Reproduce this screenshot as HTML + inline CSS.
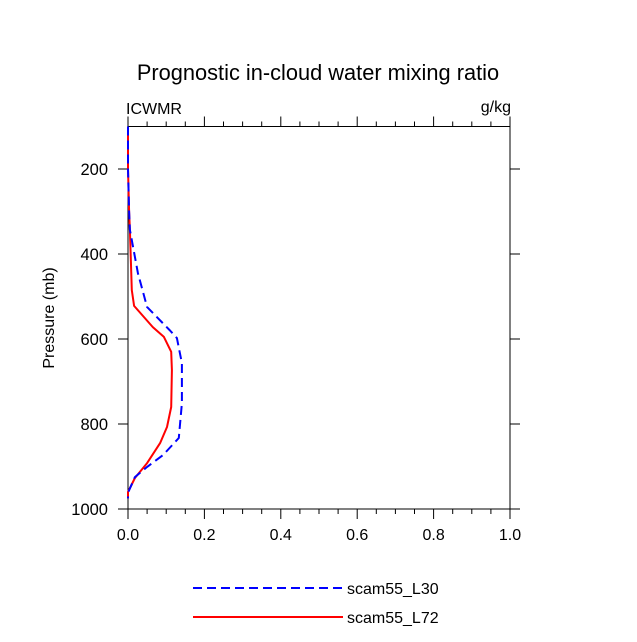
<!DOCTYPE html>
<html><head><meta charset="utf-8"><style>
body{margin:0;background:#fff;}
svg text{font-family:"Liberation Sans",sans-serif;fill:#000;}
</style></head><body>
<svg id="chart" width="637" height="637" viewBox="0 0 637 637">
<text x="318" y="80" font-size="21.8" text-anchor="middle">Prognostic in-cloud water mixing ratio</text>
<text x="126" y="114" font-size="16">ICWMR</text>
<text x="511" y="112" font-size="16" text-anchor="end">g/kg</text>
<text transform="translate(54,318) rotate(-90)" font-size="16" text-anchor="middle">Pressure (mb)</text>
<g id="axes"></g>
<g id="series"></g>
<g>
<line x1="193" y1="588" x2="343" y2="588" stroke="#0000ff" stroke-width="2" stroke-dasharray="9,5"/>
<text x="347" y="594" font-size="16">scam55_L30</text>
<line x1="193" y1="617" x2="343" y2="617" stroke="#ff0000" stroke-width="2"/>
<text x="347" y="623" font-size="16">scam55_L72</text>
</g>
</svg>
<script>
const xTicks=[0,0.2,0.4,0.6,0.8,1.0];
const xTickLabels=["0.0","0.2","0.4","0.6","0.8","1.0"];
const yTicks=[200,400,600,800,1000];
const yTickLabels=["200","400","600","800","1000"];
const l30P=[100,200,300,343,445,525,580,598,657,751,833,873,901,925,962,975];
const l30V=[0,0,0.003,0.005,0.026,0.05,0.11,0.128,0.141,0.141,0.133,0.092,0.05,0.018,0.0,0.0];
const l72P=[100,200,300,343,485,522,572,595,630,673,760,807,845,892,927,960,975];
const l72V=[0,0,0.003,0.005,0.01,0.016,0.065,0.094,0.113,0.115,0.113,0.102,0.084,0.05,0.018,0.0,0.0];
const X0=128,X1=510,Y0=126.5,Y1=509;
const xs=v=>X0+v*(X1-X0);
const ys=p=>Y0+(p-100)/900*(Y1-Y0);
const NS="http://www.w3.org/2000/svg";
const axes=document.getElementById('axes');
const series=document.getElementById('series');
function mk(tag,attrs,parent){const e=document.createElementNS(NS,tag);for(const k in attrs)e.setAttribute(k,attrs[k]);parent.appendChild(e);return e;}
const frame=mk('rect',{x:X0,y:Y0,width:X1-X0,height:Y1-Y0,fill:'none',stroke:'#000','stroke-width':1},axes);


xTicks.forEach((v,i)=>{
  const x=xs(v);
  mk('line',{x1:x,y1:Y1,x2:x,y2:Y1+10,stroke:'#000'},axes);
  mk('line',{x1:x,y1:Y0,x2:x,y2:Y0-10,stroke:'#000'},axes);
  const t=mk('text',{x:x,y:Y1+31,'font-size':16,'text-anchor':'middle'},axes);
  t.textContent=xTickLabels[i];
  
  
});
for(let v=0.05;v<1;v+=0.05){
  if(Math.abs(v*5-Math.round(v*5))<1e-6)continue;
  const x=xs(v);
  mk('line',{x1:x,y1:Y1,x2:x,y2:Y1+5,stroke:'#000'},axes);
  mk('line',{x1:x,y1:Y0,x2:x,y2:Y0-5,stroke:'#000'},axes);
}
yTicks.forEach((p,i)=>{
  const y=ys(p);
  mk('line',{x1:X0,y1:y,x2:X0-10,y2:y,stroke:'#000'},axes);
  mk('line',{x1:X1,y1:y,x2:X1+10,y2:y,stroke:'#000'},axes);
  const t=mk('text',{x:X0-20,y:y+6,'font-size':16.5,'text-anchor':'end'},axes);
  t.textContent=yTickLabels[i];
  
  
});
function line(P,V,color,dash,name){
  const pts=P.map((p,i)=>xs(V[i]).toFixed(1)+','+ys(p).toFixed(1)).join(' ');
  const l=mk('polyline',{points:pts,fill:'none',stroke:color,'stroke-width':2,'stroke-linejoin':'round'},series);
  if(dash)l.setAttribute('stroke-dasharray',dash);
  
  
}
line(l72P,l72V,'#ff0000',null,'series-l72');
line(l30P,l30V,'#0000ff','9,5','series-l30');
</script>
</body></html>
